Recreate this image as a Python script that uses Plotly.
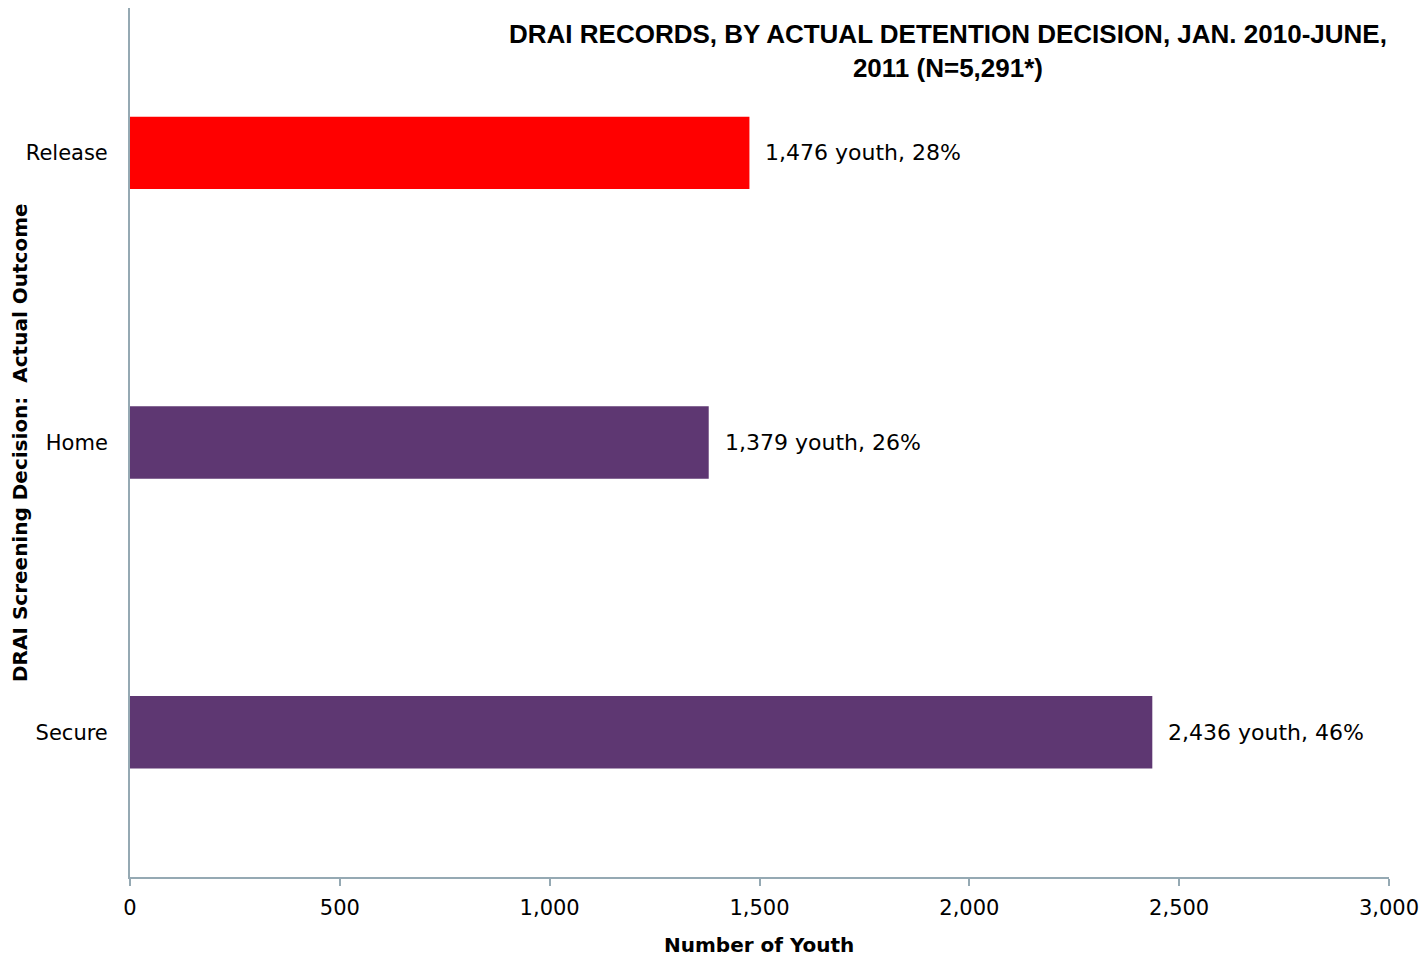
import plotly.graph_objects as go

# Detention outcomes recorded in DRAI screening
categories = ["Release", "Home", "Secure"]
youth_counts = [1476, 1379, 2436]
bar_colors = ["#FF0000", "#5E3772", "#5E3772"]
x_tick_values = [0, 500, 1000, 1500, 2000, 2500, 3000]
x_tick_labels = ["0", "500", "1,000", "1,500", "2,000", "2,500", "3,000"]

total = sum(youth_counts)
labels = [f"{v:,} youth, {round(100 * v / total)}%" for v in youth_counts]

label_font = "Century Gothic, DejaVu Sans, sans-serif"
axis_color = "#95A9B3"

W, H = 1422, 956
M_L, M_R, M_T, M_B = 130, 33, 8, 79
plot_w = W - M_L - M_R
plot_h = H - M_T - M_B


def px_x(px):
    return (px - M_L) / plot_w


def px_y(py):
    return (H - M_B - py) / plot_h


fig = go.Figure(
    go.Bar(
        x=youth_counts,
        y=categories,
        orientation="h",
        marker=dict(color=bar_colors, line=dict(width=0)),
        width=0.25,
        hoverinfo="skip",
    )
)

# value labels placed just past the end of each bar
value_labels = [
    dict(
        x=v,
        y=c,
        xref="x",
        yref="y",
        text=t,
        showarrow=False,
        xanchor="left",
        xshift=14,
        font=dict(family=label_font, size=22, color="#000000"),
    )
    for v, c, t in zip(youth_counts, categories, labels)
]

titles = [
    dict(
        text="<b>DRAI RECORDS, BY ACTUAL DETENTION DECISION, JAN. 2010-JUNE,<br>2011 (N=5,291*)</b>",
        x=px_x(948),
        xref="paper",
        y=px_y(17),
        yref="paper",
        showarrow=False,
        font=dict(family="Liberation Sans, Arial, sans-serif", size=26, color="#000000"),
        align="center",
        xanchor="center",
        yanchor="top",
    ),
    dict(
        text="<b>Number of Youth</b>",
        x=px_x(759),
        xref="paper",
        y=px_y(945),
        yref="paper",
        showarrow=False,
        font=dict(family=label_font, size=20, color="#000000"),
        xanchor="center",
        yanchor="middle",
    ),
    dict(
        text="<b>DRAI Screening Decision:  Actual Outcome</b>",
        x=px_x(20),
        xref="paper",
        y=px_y(443),
        yref="paper",
        showarrow=False,
        textangle=-90,
        font=dict(family=label_font, size=20, color="#000000"),
        xanchor="center",
        yanchor="middle",
    ),
]

fig.update_layout(
    width=W,
    height=H,
    margin=dict(l=M_L, r=M_R, t=M_T, b=M_B, autoexpand=False),
    plot_bgcolor="#FFFFFF",
    paper_bgcolor="#FFFFFF",
    showlegend=False,
    font=dict(family=label_font, color="#000000"),
    annotations=value_labels + titles,
)

fig.update_xaxes(
    range=[0, 3000],
    tickvals=x_tick_values,
    ticktext=x_tick_labels,
    tickfont=dict(family=label_font, size=21, color="#000000"),
    showgrid=False,
    zeroline=False,
    showline=True,
    linecolor=axis_color,
    linewidth=2,
    ticks="outside",
    ticklen=7,
    tickwidth=2,
    tickcolor=axis_color,
    ticklabelstandoff=4,
    ticklabeloverflow="allow",
    automargin=False,
)

fig.update_yaxes(
    categoryorder="array",
    categoryarray=categories,
    autorange="reversed",
    tickfont=dict(family=label_font, size=21, color="#000000"),
    showgrid=False,
    zeroline=False,
    showline=True,
    linecolor=axis_color,
    linewidth=2,
    ticks="",
    ticklabelstandoff=16,
    automargin=False,
)

fig.write_html("out.html")
